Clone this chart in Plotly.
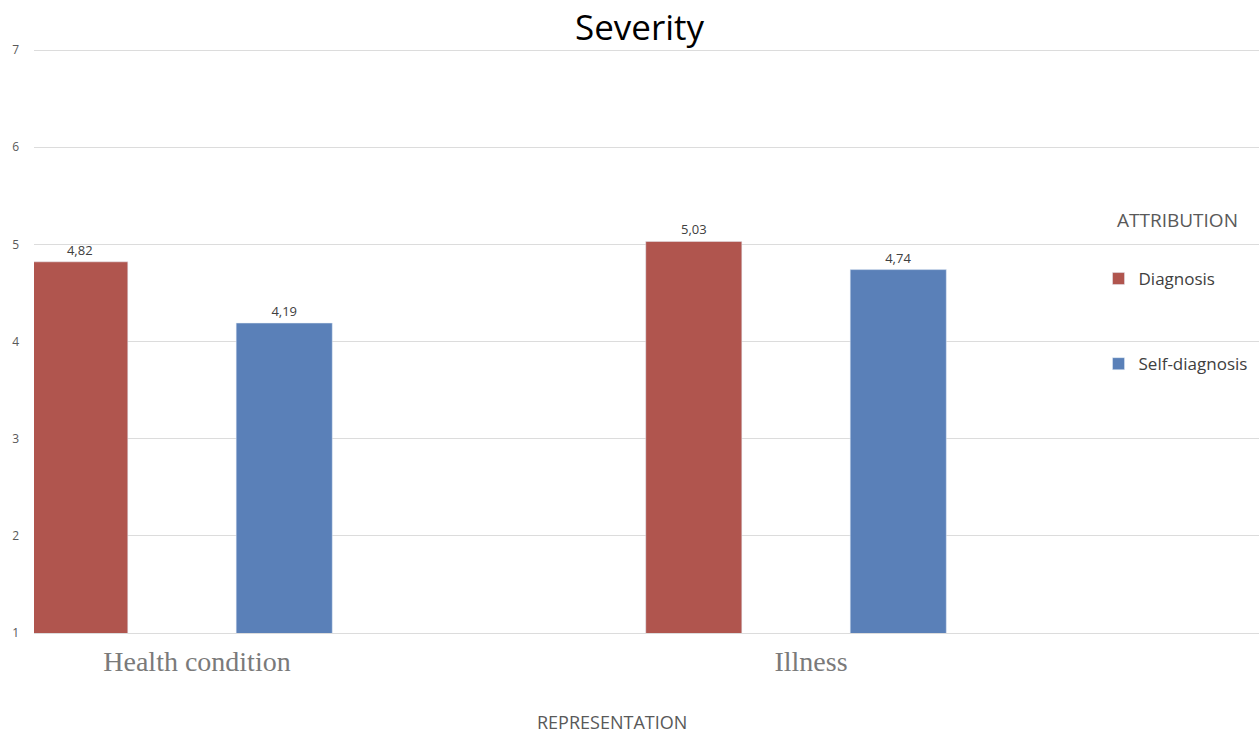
import plotly.graph_objects as go

# Mean severity ratings by representation and attribution
categories = ["Health condition", "Illness"]
diagnosis = [4.82, 5.03]
self_diagnosis = [4.19, 4.74]
y_ticks = [1, 2, 3, 4, 5, 6, 7]

RED = "#b0554e"
BLUE = "#5a80b8"
GRID = "#dcdcdc"

fig = go.Figure()
fig.add_trace(go.Bar(
    name="Diagnosis", x=categories, y=diagnosis, marker_color=RED,
    texttemplate="%{y:.2f}", textposition="outside",
    textfont=dict(family="Open Sans", size=13, color="#404040"),
    legendgroup="a", cliponaxis=False,
))
fig.add_trace(go.Bar(
    name="Self-diagnosis", x=categories, y=self_diagnosis, marker_color=BLUE,
    texttemplate="%{y:.2f}", textposition="outside",
    textfont=dict(family="Open Sans", size=13, color="#404040"),
    legendgroup="b", cliponaxis=False,
))

# plot area: y=1 at 633 px, y=7 at 50 px (top padded slightly so the 7 gridline shows)
PLOT_H = 633 - 46

fig.update_layout(
    width=1259, height=733,
    margin=dict(l=34, r=0, t=46, b=100),
    paper_bgcolor="white", plot_bgcolor="white",
    separators=", ",
    barmode="group", bargap=0.334, bargroupgap=0.53,
    title=dict(text="Severity", x=0.508, xanchor="center", y=1 - 28 / 733,
               yanchor="middle", yref="container",
               font=dict(family="Open Sans", size=35, color="#000000")),
    legend=dict(
        x=0.869, xanchor="left", y=(633 - 261) / PLOT_H, yanchor="top",
        bgcolor="rgba(0,0,0,0)", font=dict(family="Open Sans", size=17, color="#404040"),
        tracegroupgap=60, traceorder="grouped", itemwidth=30,
    ),
    showlegend=True,
    annotations=[
        dict(text="ATTRIBUTION", xref="paper", yref="paper",
             x=(1115 - 34) / 1225, xanchor="left", y=(633 - 220) / PLOT_H, yanchor="middle",
             showarrow=False, font=dict(family="Open Sans", size=19, color="#595959")),
        dict(text="REPRESENTATION", xref="paper", yref="paper",
             x=(612 - 34) / 1225, xanchor="center", y=-(722 - 633) / PLOT_H, yanchor="middle",
             showarrow=False, font=dict(family="Open Sans", size=18, color="#595959")),
    ],
)
fig.update_xaxes(
    range=[-0.241, 1.754], showgrid=False, showline=True, linecolor=GRID, linewidth=1,
    ticks="", tickfont=dict(family="Liberation Serif", size=28, color="#7a7a7a"),
    ticklabelstandoff=3, ticklabelshift=15,
)
fig.update_yaxes(
    range=[1, 1 + 6 * PLOT_H / 583], tickvals=y_ticks, showgrid=True, gridcolor=GRID,
    gridwidth=1, zeroline=False, showline=False, ticks="",
    tickfont=dict(family="Open Sans", size=12, color="#595959"),
    ticklabelstandoff=14,
)

fig.write_html("out.html")
